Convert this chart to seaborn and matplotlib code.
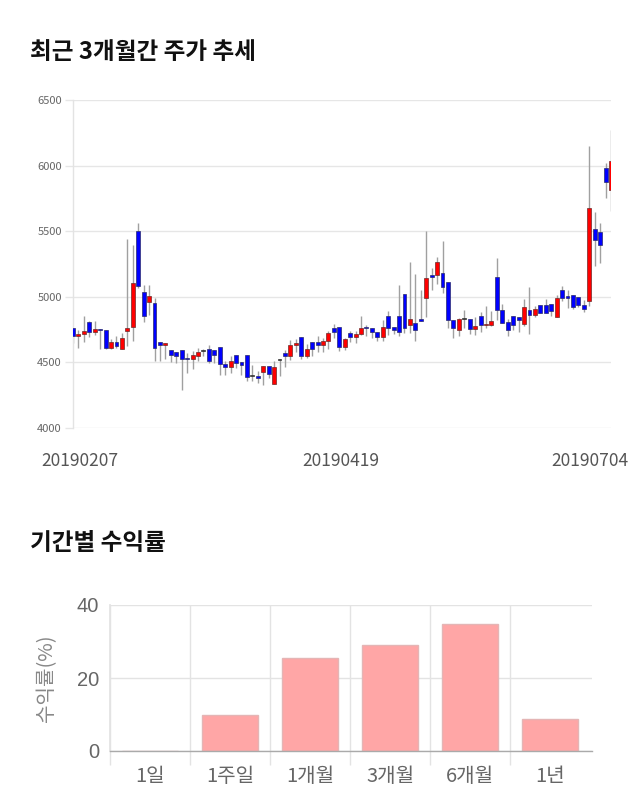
import numpy as np
import pandas as pd
import matplotlib
matplotlib.use("Agg")
import matplotlib.pyplot as plt
import seaborn as sns

# ---------------- data ----------------
opens = [4762, 4698, 4716, 4805, 4731, 4754, 4744, 4612, 4658, 4602,
         4737, 4767, 5504, 5036, 4960, 4950, 4655, 4630, 4597, 4582,
         4597, 4531, 4526, 4551, 4592, 4602, 4597, 4620, 4488, 4465,
         4556, 4505, 4556, 4399, 4399, 4427, 4470, 4338, 4521, 4569,
         4551, 4630, 4693, 4551, 4655, 4655, 4635, 4660, 4762, 4772,
         4617, 4724, 4693, 4716, 4767, 4762, 4731, 4691, 4856, 4767,
         4856, 5024, 4787, 4803, 4833, 4991, 5163, 5163, 5181, 5112,
         4825, 4744, 4835, 4833, 4752, 4853, 4782, 4782, 5153, 4902,
         4805, 4853, 4846, 4792, 4897, 4859, 4940, 4935, 4945, 4843,
         5054, 5003, 5016, 4998, 4935, 4965, 5514, 5496, 5984, 5811]
highs = [4762, 4750, 4856, 4813, 4813, 4754, 4750, 4680, 4700, 4724,
         5443, 5397, 5562, 5087, 5092, 4990, 4655, 4650, 4597, 4582,
         4597, 4571, 4584, 4610, 4600, 4635, 4597, 4620, 4508, 4551,
         4556, 4505, 4556, 4483, 4432, 4475, 4470, 4508, 4521, 4597,
         4668, 4676, 4693, 4640, 4655, 4698, 4686, 4737, 4795, 4772,
         4686, 4737, 4737, 4856, 4787, 4762, 4731, 4820, 4889, 4767,
         5092, 5024, 5262, 5173, 5054, 5504, 5219, 5300, 5422, 5112,
         4825, 4838, 4902, 4833, 4846, 4884, 4927, 4894, 5295, 4945,
         4830, 4853, 4846, 4983, 5074, 4927, 4940, 4983, 4945, 5016,
         5085, 5054, 5016, 4998, 4978, 6151, 5643, 5562, 6019, 6273]
lows = [4650, 4610, 4653, 4691, 4711, 4600, 4600, 4600, 4610, 4602,
        4622, 4660, 5067, 4808, 4864, 4508, 4508, 4526, 4500, 4495,
        4292, 4419, 4450, 4508, 4545, 4495, 4495, 4406, 4406, 4419,
        4457, 4406, 4356, 4356, 4343, 4330, 4381, 4338, 4399, 4465,
        4521, 4577, 4526, 4533, 4546, 4577, 4577, 4602, 4686, 4584,
        4597, 4653, 4648, 4711, 4699, 4686, 4660, 4660, 4711, 4720,
        4704, 4724, 4724, 4660, 4813, 4846, 5054, 5100, 5029, 4762,
        4686, 4704, 4762, 4720, 4711, 4731, 4760, 4775, 4825, 4800,
        4704, 4749, 4729, 4780, 4719, 4845, 4876, 4876, 4851, 4843,
        4965, 4914, 4907, 4920, 4884, 4932, 5232, 5257, 5753, 5651]
closes = [4698, 4716, 4737, 4731, 4754, 4744, 4607, 4658, 4622, 4688,
          4760, 5105, 5085, 4851, 5006, 4610, 4630, 4645, 4554, 4551,
          4528, 4523, 4556, 4577, 4592, 4513, 4556, 4488, 4465, 4513,
          4495, 4483, 4386, 4399, 4378, 4470, 4414, 4467, 4521, 4551,
          4632, 4650, 4551, 4604, 4605, 4632, 4665, 4724, 4731, 4617,
          4676, 4693, 4716, 4762, 4759, 4731, 4691, 4772, 4762, 4749,
          4729, 4762, 4833, 4744, 4815, 5143, 5153, 5265, 5074, 4825,
          4759, 4833, 4835, 4754, 4775, 4782, 4792, 4815, 4897, 4803,
          4744, 4782, 4820, 4925, 4859, 4907, 4876, 4876, 4894, 4988,
          4991, 4988, 4922, 4935, 4907, 5676, 5430, 5392, 5872, 6037]
date_labels = ["20190207", "20190419", "20190704"]
date_label_pos = [1.3, 49.2, 95.2]
price_ticks = [4000, 4500, 5000, 5500, 6000, 6500]

periods = ["1일", "1주일", "1개월", "3개월", "6개월", "1년"]
returns = [0.0, 10.0, 25.6, 29.0, 34.9, 8.9]

# ---------------- style ----------------
sns.set_theme(style="white")
plt.rcParams["font.family"] = ["Noto Sans CJK KR", "DejaVu Sans"]

fig = plt.figure(figsize=(6.4, 8.1), dpi=100)

# ---------------- candlestick chart ----------------
ax = fig.add_axes([73 / 640, 1 - 428 / 810, 538 / 640, 328 / 810])
n = len(opens)
idx = np.arange(n)
o = np.array(opens, float)
h = np.array(highs, float)
l = np.array(lows, float)
c = np.array(closes, float)

ax.vlines(idx, l, h, color="#a0a0a0", linewidth=1.0, zorder=2)
up = c > o
down = c < o
flat = c == o
bw = 0.72
ax.bar(idx[up], (c - o)[up], bottom=o[up], width=bw, color="#FF0000",
       edgecolor="#6b2a2a", linewidth=0.5, zorder=3)
ax.bar(idx[down], (o - c)[down], bottom=c[down], width=bw, color="#0000FF",
       edgecolor="#2a2a6b", linewidth=0.5, zorder=3)
ax.bar(idx[flat], 10, bottom=o[flat] - 5, width=bw, color="#333333",
       edgecolor="#333333", linewidth=0.5, zorder=3)

ax.set_xlim(0, n - 1)
ax.set_ylim(4000, 6500)
ax.set_yticks(price_ticks)
ax.set_yticklabels([str(t) for t in price_ticks])
ax.yaxis.grid(True, color="#e6e6e6", linewidth=1)
ax.xaxis.grid(False)
ax.set_xticks(date_label_pos)
ax.set_xticklabels(date_labels)
ax.tick_params(axis="x", length=0, pad=17, labelsize=12.5, labelcolor="#555555")
ax.tick_params(axis="y", length=6, width=1, color="#e6e6e6", pad=2,
               labelsize=8, labelcolor="#666666", left=True)
for s in ["top", "right", "bottom"]:
    ax.spines[s].set_visible(False)
ax.spines["left"].set_color("#e3e3e3")
ax.spines["left"].set_linewidth(1)

fig.text(30 / 640, 1 - 52 / 810, "최근 3개월간 주가 추세", fontsize=17,
         fontweight="bold", color="#111111", va="center", ha="left")

# ---------------- returns bar chart ----------------
ax2 = fig.add_axes([110 / 640, 1 - 751 / 810, 482 / 640, 146 / 810])
df = pd.DataFrame({"period": periods, "ret": returns})
sns.barplot(data=df, x="period", y="ret", color="#FFA6A6", edgecolor="#E4B5B5",
            linewidth=1, width=0.7, saturation=1, ax=ax2, zorder=2)
ax2.set_xlim(-0.5, 5.52)
ax2.set_ylim(0, 40)
ax2.set_yticks([0, 20, 40])
ax2.set_yticklabels(["0", "20", "40"])
ax2.set_axisbelow(True)
ax2.yaxis.grid(True, color="#e3e3e3", linewidth=1)
ax2.set_xticks(np.arange(-0.5, 5.0, 1.0), minor=True)
ax2.xaxis.grid(True, which="minor", color="#e3e3e3", linewidth=1)
ax2.xaxis.grid(False, which="major")
ax2.tick_params(axis="x", which="minor", length=10, width=1, color="#e3e3e3",
                bottom=True)
ax2.tick_params(axis="x", which="major", length=0, pad=11, labelsize=14.5,
                labelcolor="#666666")
ax2.tick_params(axis="y", length=0, pad=8, labelsize=14.5, labelcolor="#666666")
for lab in ax2.get_yticklabels():
    lab.set_fontfamily(["Liberation Sans", "DejaVu Sans"])
ax2.set_xlabel("")
ax2.set_ylabel("수익률(%)", fontsize=14.5, color="#888888", labelpad=14)
for s in ["top", "right"]:
    ax2.spines[s].set_visible(False)
ax2.spines["left"].set_color("#e3e3e3")
ax2.spines["bottom"].set_color("#aaaaaa")
ax2.spines["bottom"].set_linewidth(1)
ax2.spines["bottom"].set_zorder(4)

fig.text(30 / 640, 1 - 543 / 810, "기간별 수익률", fontsize=17,
         fontweight="bold", color="#111111", va="center", ha="left")

fig.savefig("out.png", dpi=100)
